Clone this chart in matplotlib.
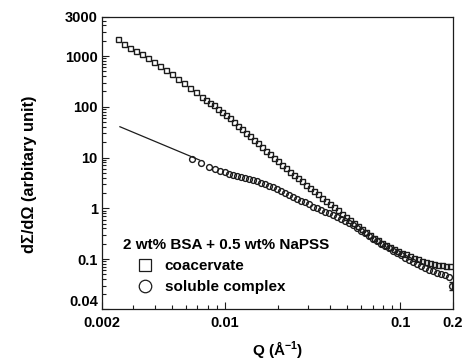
import matplotlib
matplotlib.use("Agg")
import matplotlib.pyplot as plt
from matplotlib.lines import Line2D
from matplotlib.ticker import FixedLocator, NullFormatter, LogLocator

plt.rcParams['font.family'] = ['Liberation Sans', 'DejaVu Sans']
plt.rcParams['font.weight'] = 'bold'
plt.rcParams['mathtext.fontset'] = 'custom'
plt.rcParams['mathtext.rm'] = 'Liberation Sans:bold'
plt.rcParams['mathtext.bf'] = 'Liberation Sans:bold'

# ---- data ----
q_coac = [0.00247, 0.00267, 0.00289, 0.00312, 0.00338, 0.00366, 0.00396, 0.00428,
          0.00463, 0.00501, 0.00542, 0.00586, 0.00634, 0.00686, 0.00743,
          0.00783, 0.00825, 0.00869, 0.00916, 0.00966, 0.0102, 0.0107, 0.0113,
          0.0119, 0.0126, 0.0132, 0.0139, 0.0147, 0.0155, 0.0163, 0.0172,
          0.0181, 0.0191, 0.0201, 0.0212, 0.0224, 0.0236, 0.0248, 0.0262,
          0.0276, 0.0291, 0.0306, 0.0323, 0.0340, 0.0359, 0.0378, 0.0398,
          0.0420, 0.0442, 0.0466, 0.0491, 0.0518, 0.0546, 0.0575, 0.0606,
          0.0639, 0.0673, 0.0710, 0.0748, 0.0788, 0.0831, 0.0875, 0.0923,
          0.0972, 0.1025, 0.108, 0.1138, 0.1199, 0.1264, 0.1332, 0.1404,
          0.1479, 0.1559, 0.1643, 0.1732, 0.1825, 0.1923]
i_coac = [2163, 1724, 1438, 1227, 1071, 913, 779, 650,
          542, 442, 360, 294, 239, 195, 159,
          139, 121, 106, 92.4, 80.2, 68.8, 59.2, 50.1,
          42.7, 36.4, 30.7, 26.2, 22.3, 19.0, 16.3, 13.7,
          11.7, 10.0, 8.42, 7.18, 6.15, 5.30, 4.56, 3.91,
          3.37, 2.90, 2.51, 2.17, 1.87, 1.62, 1.40, 1.21,
          1.05, 0.907, 0.784, 0.678, 0.587, 0.507, 0.441, 0.385,
          0.337, 0.297, 0.262, 0.232, 0.209, 0.189, 0.172, 0.157,
          0.145, 0.134, 0.124, 0.115, 0.107, 0.0991, 0.0926, 0.0881,
          0.0834, 0.0797, 0.0779, 0.0762, 0.0744, 0.0728]

q_sol = [0.00651, 0.00733, 0.00814, 0.00881, 0.00941, 0.01004,
         0.01058, 0.01115, 0.01175, 0.01239, 0.01305, 0.01376, 0.01450,
         0.01528, 0.01610, 0.01697, 0.01789, 0.01885, 0.01987, 0.02094,
         0.02206, 0.02325, 0.02451, 0.02583, 0.02722, 0.02869, 0.03023,
         0.03186, 0.03358, 0.03539, 0.03730, 0.03931, 0.04143, 0.04366,
         0.04601, 0.04849, 0.05111, 0.05386, 0.05676, 0.05982, 0.06305,
         0.06645, 0.07003, 0.07380, 0.07778, 0.08197, 0.08639, 0.09105,
         0.09596, 0.1011, 0.1066, 0.1123, 0.1184, 0.1248, 0.1315, 0.1386,
         0.1460, 0.1539, 0.1622, 0.1709, 0.1802, 0.1899]
i_sol = [9.34, 7.62, 6.65, 5.93, 5.47, 5.09,
         4.82, 4.60, 4.38, 4.17, 3.98, 3.80, 3.60,
         3.40, 3.19, 2.99, 2.78, 2.59, 2.41, 2.23,
         2.03, 1.86, 1.70, 1.55, 1.42, 1.30, 1.19,
         1.08, 0.993, 0.924, 0.855, 0.792, 0.736, 0.672,
         0.614, 0.561, 0.512, 0.461, 0.412, 0.364, 0.322,
         0.287, 0.253, 0.224, 0.199, 0.179, 0.162, 0.146,
         0.133, 0.119, 0.107, 0.0956, 0.0865, 0.0790, 0.0728, 0.0671,
         0.0621, 0.0580, 0.0542, 0.0506, 0.0477, 0.0452]

# end point with error bar
q_err = [0.1965]
i_err = [0.030]
e_err = [0.006]

# power-law fit line (endpoints)
fit_q = [0.00253, 0.0072]
fit_i = [40.4, 8.90]

legend_title = "2 wt% BSA + 0.5 wt% NaPSS"
series_labels = ["coacervate", "soluble complex"]
xtick_vals = [0.002, 0.01, 0.1, 0.2]
xtick_labels = ["0.002", "0.01", "0.1", "0.2"]
ytick_labels = ["0.04", "0.1", "1", "10", "100", "1000", "3000"]

# ---- figure ----
W, H = 465, 360
fig = plt.figure(figsize=(W / 100, H / 100), dpi=100)
L, R, T, B = 102, 453, 17, 309
ax = fig.add_axes([L / W, 1 - B / H, (R - L) / W, (B - T) / H])

col = '#1c1c1c'
ax.plot(q_coac, i_coac, ls='none', marker='s', ms=3.6, mfc='none', mec=col, mew=1.0)
ax.plot(q_sol, i_sol, ls='none', marker='o', ms=4.2, mfc='none', mec=col, mew=1.0)
ax.errorbar(q_err, i_err, yerr=e_err, fmt='o', ms=4.2, mfc='none', mec=col, mew=1.0,
            ecolor=col, elinewidth=0.9, capsize=2)
ax.plot(fit_q, fit_i, color=col, lw=0.9)

ax.set_xscale('log')
ax.set_yscale('log')
ylo, yhi = 0.01035, 5870
ax.set_xlim(0.002, 0.2)
ax.set_ylim(ylo, yhi)

ax.xaxis.set_major_locator(FixedLocator(xtick_vals))
ax.set_xticklabels(xtick_labels)
ax.xaxis.set_minor_locator(LogLocator(base=10, subs=range(2, 10)))
ax.xaxis.set_minor_formatter(NullFormatter())

ax.yaxis.set_major_locator(FixedLocator([ylo, 0.1, 1, 10, 100, 1000, yhi]))
ax.set_yticklabels(ytick_labels)
ax.yaxis.set_minor_locator(LogLocator(base=10, subs=range(2, 10)))
ax.yaxis.set_minor_formatter(NullFormatter())

ax.tick_params(which='both', direction='in', top=False, right=False, colors=col,
               labelsize=10.5, width=0.8)
ax.tick_params(which='major', length=5)
ax.tick_params(axis='x', which='major', pad=5)
ax.tick_params(axis='y', which='major', pad=3)
ax.tick_params(which='minor', length=3)
for lab in ax.get_xticklabels() + ax.get_yticklabels():
    lab.set_fontweight('bold')
    lab.set_color('black')
ax.get_yticklabels()[0].set_va('bottom')
for s in ax.spines.values():
    s.set_linewidth(0.9)
    s.set_color(col)

ax.set_xlabel(r'Q (Å$^{-1}$)', fontsize=11, fontweight='bold')
ax.xaxis.set_label_coords(0.5, -0.105)
ax.set_ylabel('dΣ/dΩ (arbitary unit)', fontsize=11.8, fontweight='bold')
ax.yaxis.set_label_coords(-0.185, 0.462)

def axfrac(px, py):
    return ((px - L) / (R - L), (B - py) / (B - T))

tx, ty = axfrac(123, 245)
ax.text(tx, ty, legend_title, transform=ax.transAxes, fontsize=11,
        fontweight='bold', ha='left', va='center')

handles = [Line2D([], [], ls='none', marker='s', ms=8, mfc='none', mec=col, mew=0.9),
           Line2D([], [], ls='none', marker='o', ms=9, mfc='none', mec=col, mew=0.9)]
lx, ly = axfrac(137, 259)
leg = ax.legend(handles, series_labels, loc='upper left', bbox_to_anchor=(lx, ly),
                bbox_transform=ax.transAxes, frameon=False, borderpad=0,
                borderaxespad=0, handlelength=1.0, handletextpad=0.8,
                labelspacing=0.45, prop={'size': 11, 'weight': 'bold'})

fig.savefig('out.png', dpi=100)
